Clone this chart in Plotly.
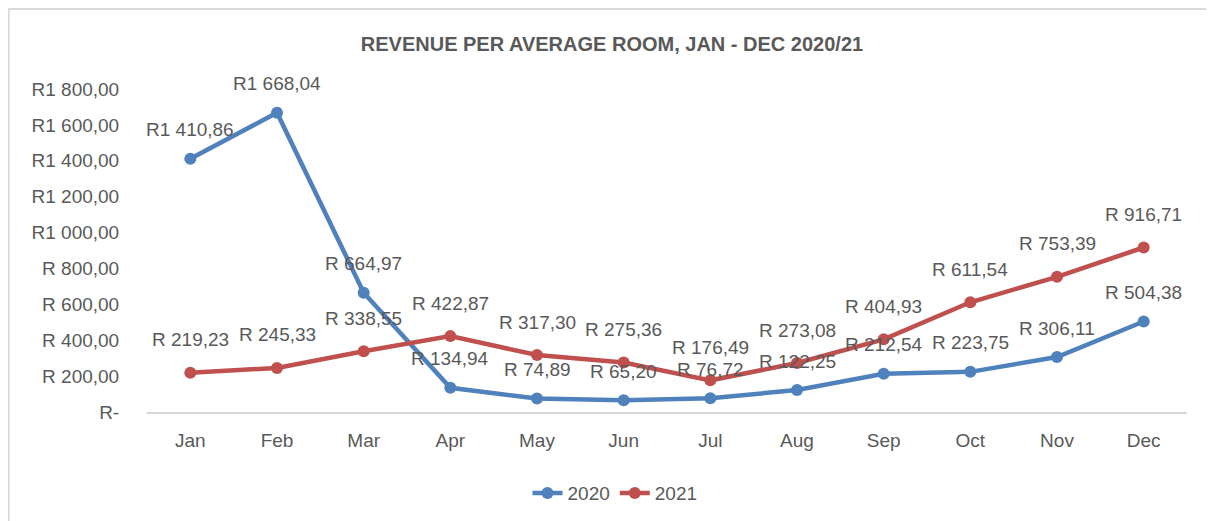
import plotly.graph_objects as go

months = ["Jan", "Feb", "Mar", "Apr", "May", "Jun", "Jul", "Aug", "Sep", "Oct", "Nov", "Dec"]
rev_2020 = [1410.86, 1668.04, 664.97, 134.94, 74.89, 65.20, 76.72, 122.25, 212.54, 223.75, 306.11, 504.38]
rev_2021 = [219.23, 245.33, 338.55, 422.87, 317.30, 275.36, 176.49, 273.08, 404.93, 611.54, 753.39, 916.71]
y_tickvals = [0, 200, 400, 600, 800, 1000, 1200, 1400, 1600, 1800]
y_ticktext = ["R-", "R 200,00", "R 400,00", "R 600,00", "R 800,00", "R1 000,00",
              "R1 200,00", "R1 400,00", "R1 600,00", "R1 800,00"]


def rand(v):
    s = f"{v:,.2f}".replace(",", " ").replace(".", ",")
    return "R" + s if v >= 1000 else "R " + s


FONT = "Liberation Sans Narrow, Arial Narrow, Liberation Sans, Arial, sans-serif"
TXT = "#595959"
FS = 19

fig = go.Figure()
annotations = []
for name, vals, col, shift in [("2020", rev_2020, "#4F81BD", 29), ("2021", rev_2021, "#C0504D", 33)]:
    fig.add_trace(go.Scatter(
        x=months, y=vals, name=name, mode="lines+markers",
        line=dict(color=col, width=4.5),
        marker=dict(color=col, size=12),
        cliponaxis=False,
    ))
    for m, v in zip(months, vals):
        annotations.append(dict(x=m, y=v, text=rand(v), showarrow=False, xanchor="center",
                                yanchor="middle", yshift=shift,
                                font=dict(family=FONT, size=FS, color=TXT)))

fig.update_layout(
    width=1214, height=521,
    margin=dict(l=139, r=35, t=81, b=117),
    paper_bgcolor="white", plot_bgcolor="white",
    font=dict(family=FONT, size=FS, color=TXT),
    title=dict(text="<b>REVENUE PER AVERAGE ROOM, JAN - DEC 2020/21</b>",
               x=0.4975, xanchor="center", y=0.931, yanchor="middle",
               font=dict(family=FONT, size=20, color=TXT)),
    showlegend=True,
    legend=dict(orientation="h", x=0.45, xanchor="center", y=-0.251, yanchor="middle",
                font=dict(family=FONT, size=FS, color=TXT)),
    annotations=annotations,
    xaxis=dict(range=[-0.5, 11.5], showgrid=False, showline=True, linecolor="#D9D9D9",
               linewidth=2, ticks="outside", ticklen=10, tickcolor="rgba(0,0,0,0)",
               zeroline=False, tickfont=dict(family=FONT, size=FS, color=TXT)),
    yaxis=dict(range=[0, 1800], tickvals=y_tickvals, ticktext=y_ticktext, showgrid=False,
               showline=False, zeroline=False, ticks="outside", ticklen=23,
               tickcolor="rgba(0,0,0,0)", tickfont=dict(family=FONT, size=FS, color=TXT)),
    shapes=[
        dict(type="rect", xref="paper", yref="paper", x0=-0.1330, x1=1.2, y0=-1, y1=1.2477,
             line=dict(color="#D9D9D9", width=2), fillcolor="rgba(0,0,0,0)", layer="below"),
    ],
)

fig.write_html("out.html")
